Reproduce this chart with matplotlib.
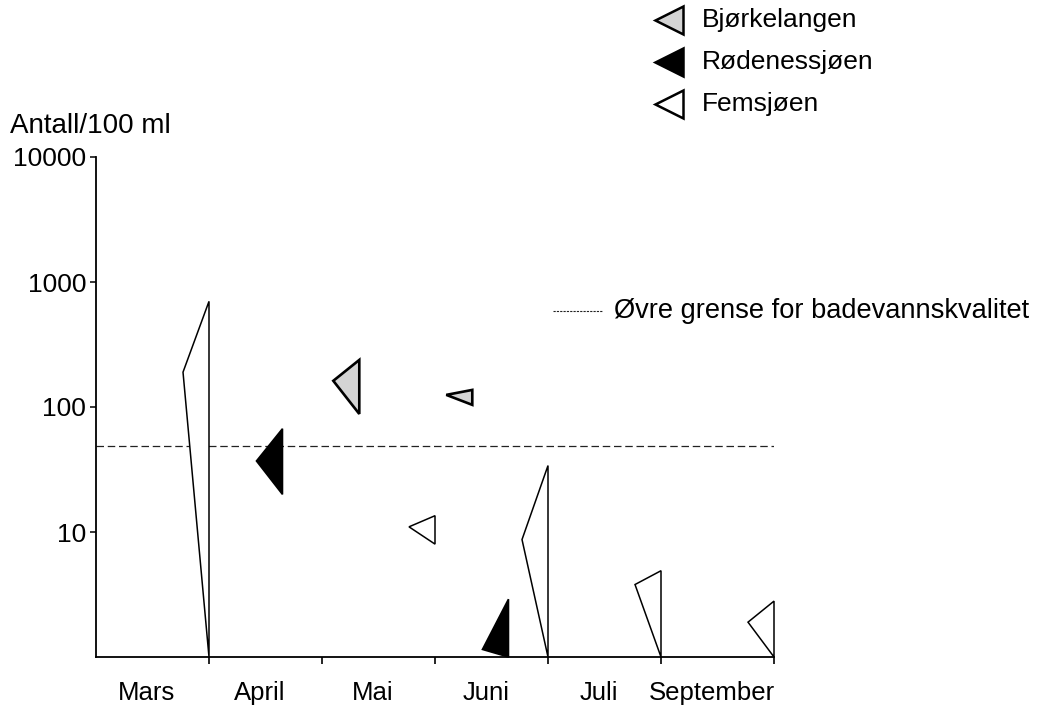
import matplotlib
matplotlib.use('Agg')
import matplotlib.pyplot as plt
from matplotlib.lines import Line2D

plt.rcParams['font.family'] = ['Liberation Sans', 'DejaVu Sans']

# ---- data ----
months = ['Mars', 'April', 'Mai', 'Juni', 'Juli', 'September']
yticks = [10, 100, 1000, 10000]
ytick_labels = ['10', '100', '1000', '10000']

fem_months = ['Mars', 'Mai', 'Juni', 'Juli', 'September']
fem_min = [1, 8, 1, 1, 1]
fem_mean = [190, 11, 8.7, 3.8, 1.9]
fem_max = [700, 13.5, 34, 4.9, 2.8]

bjo_months = ['Mai', 'Juni']
bjo_min = [88, 104]
bjo_mean = [162, 125]
bjo_max = [238, 137]

rod_months = ['April', 'Juni']
rod_min = [20, 1]
rod_mean = [37, 1.15]
rod_max = [67, 2.9]

limit_value = 49

# ---- figure ----
W, H = 1044, 711
fig = plt.figure(figsize=(W / 100, H / 100), dpi=100)
ax = fig.add_axes([96 / W, 1 - 657 / H, (774 - 96) / W, 500 / H])

ax.set_yscale('log')
ax.set_ylim(1, 10000)
ax.set_xlim(0, 6)

apex = 0.23
series = [
    (fem_months, fem_min, fem_mean, fem_max, 1.0, 'white', 1.1),
    (bjo_months, bjo_min, bjo_mean, bjo_max, 0.33, '#d4d4d4', 1.9),
    (rod_months, rod_min, rod_mean, rod_max, 0.65, 'black', 1.2),
]
for mlist, mn, me, mx, off, fc, lw in series:
    for m, lo, mid, hi in zip(mlist, mn, me, mx):
        xv = months.index(m) + off
        ax.fill([xv, xv, xv - apex], [lo, hi, mid], facecolor=fc,
                edgecolor='black', linewidth=lw, joinstyle='miter',
                clip_on=False, zorder=3)

ax.axhline(limit_value, color='#222222', linewidth=0.9,
           linestyle=(0, (6, 3)), zorder=2)

for s in ['top', 'right']:
    ax.spines[s].set_visible(False)
for s in ['left', 'bottom']:
    ax.spines[s].set_linewidth(1.3)

ax.set_yticks(yticks)
ax.set_yticklabels(ytick_labels)
ax.yaxis.set_minor_locator(matplotlib.ticker.NullLocator())
ax.tick_params(axis='y', which='major', length=4, width=1.1, pad=3,
               labelsize=19)

ax.set_xticks(range(1, 7))
ax.set_xticklabels([''] * 6)
ax.tick_params(axis='x', which='major', length=5, width=1.2)
ax.set_xticks([i + 0.45 for i in range(6)], minor=True)
ax.set_xticklabels(months, minor=True)
ax.tick_params(axis='x', which='minor', length=0, pad=17, labelsize=18.5)

fig.text(10 / W, 1 - 126 / H, 'Antall/100 ml', ha='left', va='center',
         fontsize=20)

# legend
leg_names = ['Bjørkelangen', 'Rødenessjøen', 'Femsjøen']
leg_fc = ['#d4d4d4', 'black', 'white']
leg_y = [20, 62, 104]
for name, fc, yy in zip(leg_names, leg_fc, leg_y):
    fig.add_artist(Line2D([669 / W], [1 - yy / H], marker='<',
                          markersize=20, markerfacecolor=fc,
                          markeredgecolor='black', markeredgewidth=1.8,
                          linestyle='none', transform=fig.transFigure))
    fig.text(702 / W, 1 - yy / H, name, ha='left', va='center',
             fontsize=19)

fig.add_artist(Line2D([553 / W, 602 / W], [1 - 311 / H, 1 - 311 / H],
                      color='#222222', linewidth=0.8,
                      linestyle=(0, (2, 1)), transform=fig.transFigure))
fig.text(614 / W, 1 - 311 / H, 'Øvre grense for badevannskvalitet',
         ha='left', va='center', fontsize=19.6)

fig.savefig('out.png', dpi=100, facecolor='white')
